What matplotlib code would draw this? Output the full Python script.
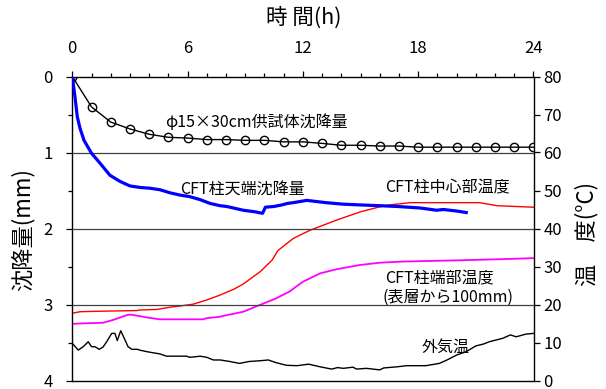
import matplotlib
matplotlib.use("Agg")
import matplotlib.pyplot as plt
from matplotlib.ticker import MultipleLocator

plt.rcParams['font.family'] = ['Noto Sans CJK JP', 'DejaVu Sans']

# ---- data ----
spec_h = list(range(25))
spec_mm = [0, 0.40, 0.60, 0.69, 0.76, 0.80, 0.81, 0.83, 0.83, 0.84, 0.84, 0.86, 0.86,
           0.88, 0.905, 0.905, 0.915, 0.915, 0.93, 0.93, 0.93, 0.93, 0.93, 0.93, 0.93]

cft_h = [0, 0.14, 0.26, 0.40, 0.61, 1.0, 1.44, 1.96, 2.48, 3.0, 3.52, 4.04, 4.56, 5.08,
         5.6, 6.1, 6.65, 7.17, 7.69, 8.03, 8.9, 9.5, 9.9, 10.05, 10.5, 10.9, 11.2, 11.5,
         12.2, 13.2, 14.1, 15.0, 16.0, 16.9, 18.1, 18.96, 19.3, 19.65, 20.0, 20.5]
cft_mm = [0, 0.27, 0.53, 0.68, 0.84, 1.01, 1.14, 1.30, 1.38, 1.44, 1.46, 1.47, 1.49, 1.53,
          1.56, 1.58, 1.62, 1.67, 1.70, 1.71, 1.76, 1.78, 1.80, 1.72, 1.71, 1.69, 1.67, 1.66,
          1.63, 1.66, 1.68, 1.69, 1.70, 1.71, 1.73, 1.76, 1.75, 1.76, 1.77, 1.79]

center_h = [0, 0.4, 1.1, 3.35, 3.5, 4.4, 5.1, 5.6, 6.3, 7.0, 7.7, 8.4, 8.9, 9.77, 10.4,
            10.7, 11.5, 12.4, 13.8, 15.0, 16.0, 16.5, 17.6, 21.2, 22.1, 24]
center_t = [17.7, 18.1, 18.2, 18.4, 18.55, 18.7, 19.3, 19.6, 20.1, 21.2, 22.5, 24.0, 25.4,
            28.6, 31.7, 34.2, 37.4, 39.6, 42.3, 44.4, 45.7, 46.2, 46.8, 46.8, 46.0, 45.6]

end_h = [0, 0.4, 1.6, 2.1, 2.9, 3.1, 3.87, 4.56, 6.8, 7.0, 7.7, 7.86, 8.9, 9.77, 10.6,
         11.3, 12.0, 12.9, 13.76, 14.97, 16.0, 17.2, 18.96, 20.7, 22.8, 24]
end_t = [14.9, 15.0, 15.2, 15.9, 17.3, 17.3, 16.6, 16.1, 16.1, 16.4, 16.8, 17.0, 18.1,
         19.9, 21.6, 23.4, 26.0, 28.2, 29.3, 30.4, 31.0, 31.3, 31.5, 31.7, 32.0, 32.2]

air_h = [0, 0.31, 0.57, 0.83, 1.0, 1.18, 1.4, 1.6, 1.79, 2.05, 2.22, 2.34, 2.52, 2.74,
         2.9, 3.1, 3.4, 3.5, 3.87, 4.2, 4.56, 4.9, 5.95, 6.1, 6.5, 6.65, 7.0, 7.34, 7.7,
         8.2, 8.7, 9.2, 9.77, 10.2, 10.6, 11.15, 11.7, 12.3, 12.9, 13.5, 13.8, 14.1, 14.6,
         14.8, 15.3, 16.0, 16.2, 16.9, 17.4, 18.4, 19.1, 19.5, 20.0, 20.5, 21.0, 21.4,
         21.7, 22.4, 22.8, 23.1, 23.6, 24]
air_t = [9.8, 8.0, 8.9, 10.2, 8.9, 8.9, 8.2, 8.8, 10.2, 12.4, 12.4, 10.5, 13.1, 10.7,
         8.9, 8.2, 8.2, 8.0, 7.6, 7.3, 7.0, 6.4, 6.4, 6.1, 6.3, 6.4, 6.1, 5.4, 5.4,
         5.0, 4.5, 5.0, 5.2, 5.4, 4.7, 4.0, 3.9, 4.3, 3.6, 3.0, 3.4, 3.2, 3.5,
         3.0, 3.2, 2.8, 3.3, 3.6, 3.9, 3.9, 4.5, 5.4, 6.7, 7.6, 9.1, 9.6,
         10.2, 11.1, 12.0, 11.5, 12.2, 12.4]

x_ticks = [0, 6, 12, 18, 24]
mm_ticks = [0, 1, 2, 3, 4]
t_ticks = [0, 10, 20, 30, 40, 50, 60, 70, 80]

# ---- figure ----
W, H = 606, 389
fig = plt.figure(figsize=(W / 100, H / 100), dpi=100)
L, R, T, B = 72.3, 533.5, 76.5, 380.5
pos = [L / W, 1 - B / H, (R - L) / W, (B - T) / H]

ax_t = fig.add_axes(pos)
ax_s = fig.add_axes(pos, frameon=False)

# temperature axis (right)
ax_t.set_xlim(0, 24)
ax_t.set_ylim(0, 80)
ax_t.yaxis.tick_right()
ax_t.set_yticks(t_ticks)
ax_t.set_xticks([])
ax_t.tick_params(axis='y', direction='out', length=4, width=0.9, pad=3,
                 labelsize=12)
for s in ax_t.spines.values():
    s.set_linewidth(1.0)

ax_t.plot(air_h, air_t, color='black', lw=1.0)
ax_t.plot(end_h, end_t, color='#FF00FF', lw=1.3)
ax_t.plot(center_h, center_t, color='#FF0000', lw=1.0)

# settlement axis (left / top)
ax_s.set_xlim(0, 24)
ax_s.set_ylim(4, 0)
ax_s.xaxis.tick_top()
ax_s.set_xticks(x_ticks)
ax_s.xaxis.set_minor_locator(MultipleLocator(1))
ax_s.set_yticks(mm_ticks)
ax_s.yaxis.set_minor_locator(MultipleLocator(0.5))
ax_s.tick_params(axis='both', which='major', direction='out', length=4.3, width=0.9,
                 labelsize=12)
ax_s.tick_params(axis='x', which='major', pad=10)
ax_s.tick_params(axis='y', which='major', pad=10)
ax_s.tick_params(axis='both', which='minor', direction='out', length=3.0, width=0.9)

for yv in [1, 2, 3]:
    ax_s.axhline(yv, color='#404040', lw=0.9, zorder=1)

ax_s.plot(spec_h, spec_mm, color='black', lw=1.0, marker='o', ms=6,
          mfc='none', mec='black', mew=1.0, zorder=3)
ax_s.plot(cft_h, cft_mm, color='#0000FF', lw=2.3, zorder=4)

# annotations
fs = 11.5
def px(x, y):
    return x / W, 1 - y / H

fig.text(*px(165, 122), 'φ15×30cm供試体沈降量', fontsize=fs, va='center', ha='left')
fig.text(*px(180, 190), 'CFT柱天端沈降量', fontsize=fs, va='center', ha='left')
fig.text(*px(385, 188), 'CFT柱中心部温度', fontsize=fs, va='center', ha='left')
fig.text(*px(385, 279), 'CFT柱端部温度', fontsize=fs, va='center', ha='left')
fig.text(*px(383, 297), '(表層から100mm)', fontsize=fs, va='center', ha='left')
fig.text(*px(422, 347), '外気温', fontsize=fs, va='center', ha='left')

# axis titles
fig.text(*px(304, 18), '時 間(h)', fontsize=15.5, va='center', ha='center')
fig.text(*px(23, 230), '沈降量(mm)', fontsize=16, va='center', ha='center', rotation=90)
fig.text(*px(587, 234), '温　度(°C)', fontsize=16, va='center', ha='center', rotation=90)

fig.savefig('out.png', dpi=100)
